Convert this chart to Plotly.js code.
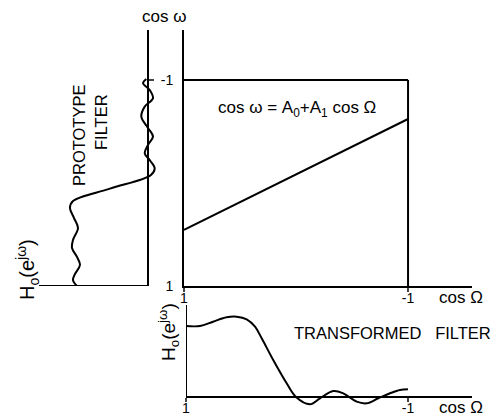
<!DOCTYPE html>
<html>
<head>
<meta charset="utf-8">
<script src="https://cdn.plot.ly/plotly-3.0.1.min.js"></script>
<style>html,body{margin:0;padding:0;background:#fff;}#plot{width:502px;height:419px;}</style>
</head>
<body>
<div id="plot"></div>
<script>
// ---------- data ----------
// Prototype filter: magnitude H (to the left) versus cos(omega) (downwards = 1, upwards = -1)
const protoH    = [1.000, 1.056, 1.028, 0.958, 1.000, 1.070, 1.056, 0.986, 1.042, 1.099, 1.056, 0.535,
                   -0.042, -0.094, -0.024, 0.046, 0.000, -0.070, 0.000, 0.094, 0.046, -0.070, -0.024, 0.070, 0.024];
const protoCosW = [1.000, 0.942, 0.883, 0.796, 0.718, 0.631, 0.553, 0.437, 0.340, 0.243, 0.175, 0.055,
                   -0.078, -0.143, -0.223, -0.288, -0.369, -0.450, -0.534, -0.644, -0.741, -0.822, -0.903, -0.968, -1.010];

// Mapping cos(omega) = A0 + A1 cos(Omega)
const mapCosOmega = [1, -1];
const mapCosW     = [0.456, -0.621];

// Transformed filter: magnitude versus cos(Omega)
const transCosOmega = [1.000, 0.874, 0.757, 0.633, 0.543, 0.453, 0.378, 0.318, 0.214, 0.093, 0.009,
                       -0.117, -0.207, -0.327, -0.417, -0.538, -0.628, -0.732, -0.838, -0.928, -1.000];
const transH        = [1.000, 1.000, 1.061, 1.123, 1.131, 1.094, 0.990, 0.827, 0.521, 0.193, 0.000,
                       -0.103, -0.018, 0.085, 0.052, -0.066, -0.089, -0.018, 0.052, 0.099, 0.108];

// Axis bounds and tick labels
const bound = [1, -1];
const tickVals = [1, -1];
const tickText = ['1', '-1'];

// ---------- layout helpers ----------
const W = 502, H = 419;
const px = v => v / W;
const py = v => 1 - v / H;
const FONT = 'Liberation Sans, Arial, sans-serif';
const lineStyle = {color: '#000', width: 2};

const xRangeA = [1.535, -0.169];
const yRangeA = [1, -1.485];
const yRangeC = [-0.141, 1.296];

const traces = [
  {x: protoH, y: protoCosW, xaxis: 'x', yaxis: 'y', mode: 'lines',
   line: {color: '#000', width: 2, shape: 'spline', smoothing: 1}, hoverinfo: 'skip'},
  {x: mapCosOmega, y: mapCosW, xaxis: 'x2', yaxis: 'y2', mode: 'lines',
   line: lineStyle, hoverinfo: 'skip'},
  {x: transCosOmega, y: transH, xaxis: 'x3', yaxis: 'y3', mode: 'lines',
   line: {color: '#000', width: 2, shape: 'spline', smoothing: 1}, hoverinfo: 'skip'}
];

const baseAxis = {showgrid: false, zeroline: false, showline: true, linecolor: '#000', linewidth: 2,
                  fixedrange: true, tickfont: {family: FONT, size: 14, color: '#000'}};

const layout = {
  width: W, height: H,
  margin: {l: 0, r: 0, t: 0, b: 0},
  paper_bgcolor: '#fff', plot_bgcolor: 'rgba(0,0,0,0)',
  showlegend: false,
  font: {family: FONT, color: '#000'},
  xaxis: Object.assign({}, baseAxis, {domain: [px(39), px(160)], range: xRangeA, anchor: 'y',
          showline: false, showticklabels: false, ticks: ''}),
  yaxis: Object.assign({}, baseAxis, {domain: [py(286), py(30)], range: yRangeA, anchor: 'free',
          position: px(148), side: 'right',
          showticklabels: false, ticks: 'outside', ticklen: 5, tickwidth: 1.5, tickvals: [-1]}),
  xaxis2: Object.assign({}, baseAxis, {domain: [px(184), px(472)], range: [1, -1.571], anchor: 'y2',
          tickvals: tickVals, ticktext: tickText, ticks: 'outside', ticklen: 4, tickwidth: 1.5,
          ticklabelstandoff: -6}),
  yaxis2: Object.assign({}, baseAxis, {domain: [py(286), py(30)], range: yRangeA, anchor: 'x2', side: 'left',
          tickvals: tickVals, ticktext: tickText, ticks: '', ticklabelstandoff: 6}),
  xaxis3: Object.assign({}, baseAxis, {domain: [px(186), px(472)], range: [1, -1.577], anchor: 'free',
          position: py(397),
          tickvals: tickVals, ticktext: tickText, ticks: 'outside', ticklen: 4, tickwidth: 1.5,
          ticklabelstandoff: -6}),
  yaxis3: Object.assign({}, baseAxis, {domain: [py(407), py(305)], range: yRangeC, anchor: 'x3',
          showline: false, showticklabels: false, ticks: ''}),
  shapes: [
    // prototype baseline (H axis at cos w = 1)
    {type: 'line', xref: 'x', yref: 'y', x0: xRangeA[0], x1: 0, y0: bound[0], y1: bound[0], line: lineStyle},
    // mapping box
    {type: 'line', xref: 'x2', yref: 'y2', x0: bound[0], x1: bound[1], y0: bound[1], y1: bound[1], line: lineStyle},
    {type: 'line', xref: 'x2', yref: 'y2', x0: bound[1], x1: bound[1], y0: bound[1], y1: bound[0], line: lineStyle},
    // transformed filter vertical axis
    {type: 'line', xref: 'x3', yref: 'y3', x0: bound[0], x1: bound[0], y0: 0, y1: yRangeC[1], line: lineStyle}
  ],
  annotations: [
    {text: 'cos ω', x: px(164), y: py(16), size: 17},
    {text: 'PROTOTYPE', x: px(79), y: py(136), textangle: -90, size: 16.5},
    {text: 'FILTER', x: px(101), y: py(122), textangle: -90, size: 16.5},
    {text: 'cos ω = A<sub>0</sub>+A<sub>1</sub> cos Ω', x: px(297), y: py(109), size: 17},
    {text: 'TRANSFORMED&nbsp;&nbsp;&nbsp;FILTER', x: px(392), y: py(333), size: 16.5},
    {text: 'cos Ω', x: px(461), y: py(297), size: 17},
    {text: 'cos Ω', x: px(461), y: py(407), size: 17},
    {text: 'H<sub>o</sub>(e<sup>jω</sup>)', x: px(27), y: py(270), textangle: -90, size: 20},
    {text: 'H<sub>o</sub>(e<sup>jω</sup>)', x: px(168), y: py(332), textangle: -90, size: 19}
  ].map(a => ({text: a.text, x: a.x, y: a.y, xref: 'paper', yref: 'paper', showarrow: false,
              textangle: a.textangle || 0, xanchor: 'center', yanchor: 'middle',
              font: {family: FONT, size: a.size, color: '#000'}}))
};

Plotly.newPlot('plot', traces, layout, {staticPlot: true, displayModeBar: false});
</script>
</body>
</html>
